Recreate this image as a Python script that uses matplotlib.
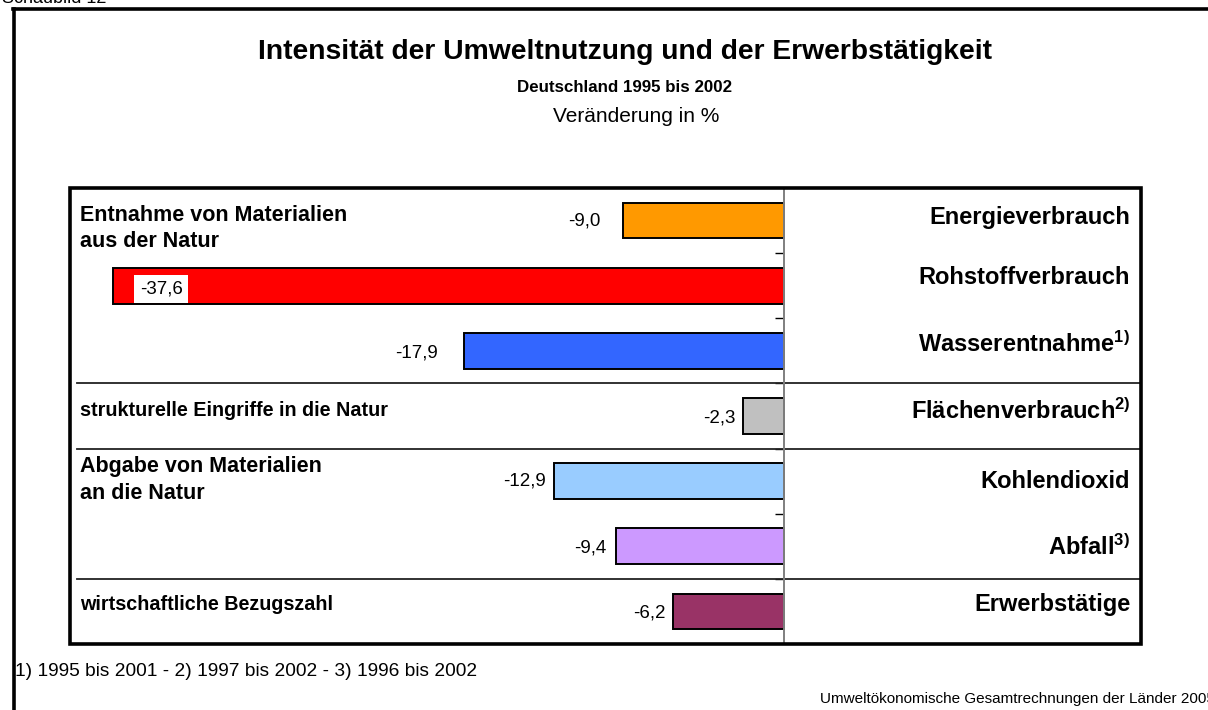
import numpy as np
import matplotlib
matplotlib.use('Agg')
import matplotlib.pyplot as plt
from matplotlib.patches import Rectangle
from matplotlib.lines import Line2D

plt.rcParams['font.family'] = ['Liberation Sans', 'DejaVu Sans']
plt.rcParams['mathtext.fontset'] = 'custom'
plt.rcParams['mathtext.rm'] = 'Liberation Sans'
plt.rcParams['mathtext.bf'] = 'Liberation Sans:bold'
plt.rcParams['mathtext.it'] = 'Liberation Sans:italic'

# ---------------- data ----------------
categories = ['Energieverbrauch', 'Rohstoffverbrauch', 'Wasserentnahme',
              'Flächenverbrauch', 'Kohlendioxid', 'Abfall', 'Erwerbstätige']
footnote_marks = ['', '', '1)', '2)', '', '3)', '']
values = [-9.0, -37.6, -17.9, -2.3, -12.9, -9.4, -6.2]
value_labels = ['-9,0', '-37,6', '-17,9', '-2,3', '-12,9', '-9,4', '-6,2']
group_labels = ['Entnahme von Materialien\naus der Natur',
                'strukturelle Eingriffe in die Natur',
                'Abgabe von Materialien\nan die Natur',
                'wirtschaftliche Bezugszahl']
group_sizes = [3, 1, 2, 1]

title = 'Intensität der Umweltnutzung und der Erwerbstätigkeit'
subtitle = 'Deutschland 1995 bis 2002'
unit_text = 'Veränderung in %'
footnote = '1) 1995 bis 2001 - 2) 1997 bis 2002 - 3) 1996 bis 2002'
source = 'Umweltökonomische Gesamtrechnungen der Länder 2005'
chart_no = 'Schaubild 12'

# ---------------- style ----------------
colors = ['#FF9900', '#FF0000', '#3366FF', '#C0C0C0', '#99CCFF', '#CC99FF', '#993366']
label_gap_px = [23, None, 27, 7, 8, 10, 8]      # gap between value label and bar end
label_dy_px = [0, 3, 2, 2, 0, 2, 2]
cat_dy_px = [-3, -8, -7, -5, 0, 1, -7]
group_dy = [0.12, -0.08, -0.02, -0.10]
group_fs = [15.5, 14.2, 15.5, 14.2]

W, H = 1208, 710
fig = plt.figure(figsize=(W / 100, H / 100), dpi=100)
ax_l, ax_r, ax_t, ax_b = 70, 1141, 188, 644
ax = fig.add_axes([ax_l / W, 1 - ax_b / H, (ax_r - ax_l) / W, (ax_b - ax_t) / H])

n = len(categories)
ypos = np.arange(n)
ax.barh(ypos, values, height=0.55, color=colors, edgecolor='black', linewidth=1.4, zorder=3)
ax.set_xlim(-40, 20)
ax.set_ylim(n - 0.5, -0.5)
row_px = (ax_b - ax_t) / n

for s in ['top', 'right', 'bottom']:
    ax.spines[s].set_visible(False)
ax.spines['left'].set_position(('data', 0))
ax.spines['left'].set_color('#7f7f7f')
ax.spines['left'].set_linewidth(1.4)
ax.spines['left'].set_zorder(4)
ax.set_yticks(np.arange(n - 1) + 0.5)
ax.tick_params(axis='y', length=6.5, width=1, direction='out', color='black', labelleft=False)
ax.xaxis.set_visible(False)

ax.add_patch(Rectangle((0, 0), 1, 1, transform=ax.transAxes, fill=False,
                       lw=2.6, ec='black', clip_on=False, zorder=6))

bounds = np.cumsum(group_sizes)[:-1] - 0.5
for b in bounds:
    ax.axhline(b, xmin=0.007, xmax=1, color='#222222', lw=1.3, zorder=2)

# value labels
for i, (v, lab) in enumerate(zip(values, value_labels)):
    if label_gap_px[i] is None:
        ax.annotate(lab, xy=(v, i), xytext=(27 * 0.72, -label_dy_px[i] * 0.72),
                    textcoords='offset points', ha='left', va='center', fontsize=13.5,
                    zorder=7,
                    bbox=dict(boxstyle='square,pad=0.3', fc='white', ec='none'))
    else:
        ax.annotate(lab, xy=(v, i), xytext=(-label_gap_px[i] * 0.72, -label_dy_px[i] * 0.72),
                    textcoords='offset points', ha='right', va='center', fontsize=13.5)

# category labels (right)
for i, (c, m) in enumerate(zip(categories, footnote_marks)):
    txt = c + (r'$^{\mathbf{' + m + '}}$' if m else '')
    ax.text(0.99, i + cat_dy_px[i] / row_px, txt, transform=ax.get_yaxis_transform(),
            ha='right', va='center', fontsize=17, fontweight='bold')

# group labels (left)
starts = np.concatenate([[0], np.cumsum(group_sizes)[:-1]])
for g, (lab, st) in enumerate(zip(group_labels, starts)):
    ax.text(0.009, st + group_dy[g], lab, transform=ax.get_yaxis_transform(),
            ha='left', va='center', fontsize=group_fs[g], fontweight='bold', linespacing=1.35)

# figure texts
fig.text(625 / W, 1 - 52 / H, title, ha='center', va='center', fontsize=20.3, fontweight='bold')
fig.text(625 / W, 1 - 88 / H, subtitle, ha='center', va='center', fontsize=12.2, fontweight='bold')
fig.text(636 / W, 1 - 117 / H, unit_text, ha='center', va='center', fontsize=15)
fig.text(15 / W, 1 - 671 / H, footnote, ha='left', va='center', fontsize=13.8)
fig.text(820 / W, 1 - 699 / H, source, ha='left', va='center', fontsize=11)
fig.text(2 / W, 1 - 3 / H, chart_no, ha='left', va='baseline', fontsize=13)

# outer frame
fig.add_artist(Line2D([14 / W, 14 / W], [1 - 9 / H, 0], lw=2.6, color='black'))
fig.add_artist(Line2D([13 / W, 1], [1 - 9 / H, 1 - 9 / H], lw=2.6, color='black'))

fig.savefig('out.png', dpi=100)
